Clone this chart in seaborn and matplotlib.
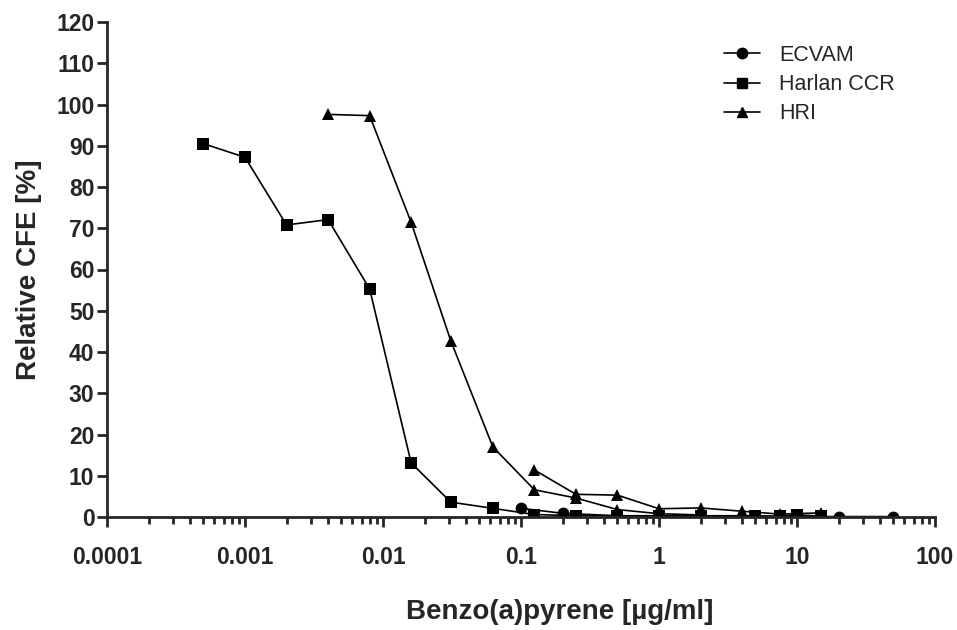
import matplotlib
matplotlib.use("Agg")
import matplotlib.pyplot as plt
import matplotlib.ticker as mticker
import numpy as np
import pandas as pd
import seaborn as sns

# ECVAM (circles)
ecvam_conc = [0.1, 0.2, 0.5, 1, 2, 5, 10, 20, 50]
ecvam_cfe = [2.1, 0.9, 0.3, 0.2, 0.2, 0.1, 0.1, 0.1, 0.1]

# Harlan CCR (squares)
harlan_conc = [0.0005, 0.001, 0.002, 0.004, 0.008, 0.016, 0.031, 0.0625,
               0.125, 0.25, 0.5, 1, 2, 5, 7.5, 10, 15]
harlan_cfe = [90.5, 87.2, 70.8, 72.1, 55.3, 13.1, 3.6, 2.1,
              0.6, 0.3, 0.3, 0.3, 0.3, 0.3, 0.2, 0.5, 0.2]

# HRI (triangles), two experiments
hri_conc_a = [0.004, 0.008, 0.016, 0.031, 0.0625, 0.125, 0.25, 0.5, 1, 2]
hri_cfe_a = [97.6, 97.3, 71.4, 42.7, 17.0, 6.6, 4.6, 1.8, 0.8, 0.5]
hri_conc_b = [0.125, 0.25, 0.5, 1, 2, 4, 7.5, 15]
hri_cfe_b = [11.4, 5.5, 5.3, 2.0, 2.2, 1.4, 0.7, 1.0]

labs = ["ECVAM", "Harlan CCR", "HRI"]
x_ticks = [0.0001, 0.001, 0.01, 0.1, 1, 10, 100]
x_tick_labels = ["0.0001", "0.001", "0.01", "0.1", "1", "10", "100"]

df = pd.concat([
    pd.DataFrame({"conc": ecvam_conc, "cfe": ecvam_cfe, "lab": "ECVAM", "run": "e"}),
    pd.DataFrame({"conc": harlan_conc, "cfe": harlan_cfe, "lab": "Harlan CCR", "run": "h"}),
    pd.DataFrame({"conc": hri_conc_a, "cfe": hri_cfe_a, "lab": "HRI", "run": "a"}),
    pd.DataFrame({"conc": hri_conc_b, "cfe": hri_cfe_b, "lab": "HRI", "run": "b"}),
], ignore_index=True)

sns.set_style("ticks")
plt.rcParams["font.family"] = ["Liberation Sans", "DejaVu Sans"]

fig = plt.figure(figsize=(9.57, 6.3), dpi=100)
ax = fig.add_axes([107 / 957, 1 - 517 / 630, (935 - 107) / 957, (517 - 22) / 630])

sns.lineplot(data=df, x="conc", y="cfe", style="lab", style_order=labs,
             units="run", estimator=None, sort=False,
             markers={"ECVAM": "o", "Harlan CCR": "s", "HRI": "^"},
             dashes=False, color="black", linewidth=1.2, markersize=8.5,
             markeredgewidth=0, ax=ax, legend=False)

# legend
for lab, mk in zip(labs, ["o", "s", "^"]):
    ax.plot([], [], color="black", marker=mk, markersize=7.5, linewidth=1.2, label=lab)
ax.legend(loc="upper left", bbox_to_anchor=(724 / 957, 1 - 45 / 630),
          bbox_transform=fig.transFigure, frameon=False, borderaxespad=0,
          borderpad=0, fontsize=15.5, handlelength=1.65, handletextpad=0.9,
          labelspacing=0.38)

ax.set_xscale("log")
ax.set_xlim(1e-4, 100)
ax.set_ylim(0, 120)
ax.set_yticks(np.arange(0, 121, 10))
ax.set_xticks(x_ticks, labels=x_tick_labels)
ax.xaxis.set_minor_locator(mticker.LogLocator(base=10, subs=np.arange(2, 10), numticks=20))
ax.xaxis.set_minor_formatter(mticker.NullFormatter())

for s in ["top", "right"]:
    ax.spines[s].set_visible(False)
for s in ["left", "bottom"]:
    ax.spines[s].set_linewidth(2)

ax.tick_params(axis="both", which="major", length=7, width=2, labelsize=16.5, direction="out")
ax.tick_params(axis="x", which="major", pad=14)
ax.tick_params(axis="y", which="major", pad=2)
ax.tick_params(axis="x", which="minor", length=5, width=2)
for t in ax.get_xticklabels() + ax.get_yticklabels():
    t.set_fontweight("bold")

ax.set_xlabel("Benzo(a)pyrene [µg/ml]", fontsize=20, fontweight="bold", labelpad=23)
ax.xaxis.set_label_coords((560 - 107) / 828, -0.165)
ax.set_ylabel("Relative CFE [%]", fontsize=20, fontweight="bold", labelpad=10)

fig.savefig("out.png", dpi=100)
